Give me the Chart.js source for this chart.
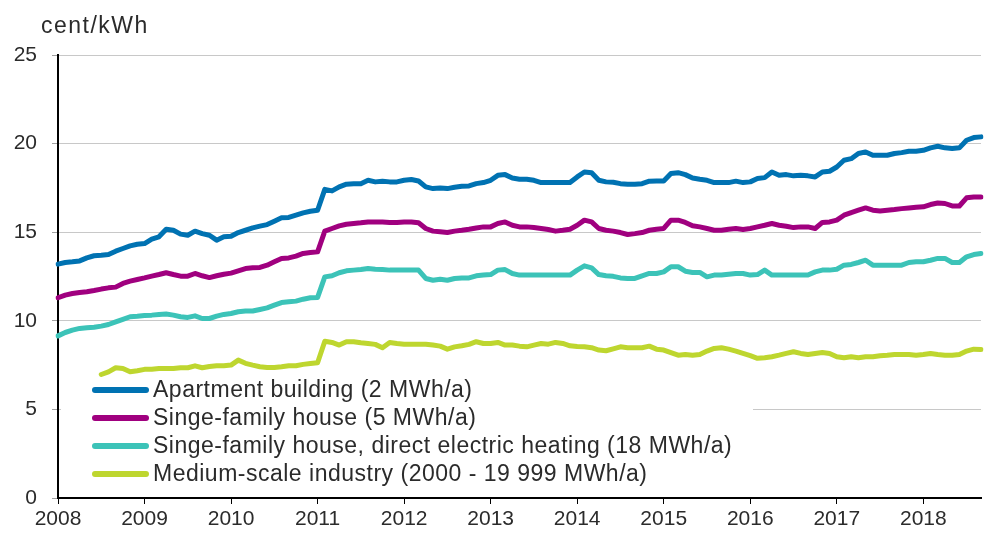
<!DOCTYPE html>
<html>
<head>
<meta charset="utf-8">
<script src="https://cdn.jsdelivr.net/npm/chart.js@4"></script>
<style>
  body { margin: 0; background: #fff; }
</style>
</head>
<body>
<canvas id="price-chart" width="984" height="534"></canvas>
<script>
        // Series names and values (cent/kWh), monthly from 2008-01 to 2018-09
        const seriesNames = [
            'Apartment building (2 MWh/a)',
            'Singe-family house (5 MWh/a)',
            'Singe-family house, direct electric heating (18 MWh/a)',
            'Medium-scale industry (2000 - 19 999 MWh/a)'
        ];
        const seriesColors = ['#0072b2', '#a0007f', '#3cc3b8', '#bed62f'];

        const apartment = [
            13.20, 13.29, 13.33, 13.38, 13.55, 13.67, 13.70, 13.74, 13.93, 14.08,
            14.23, 14.32, 14.36, 14.61, 14.74, 15.17, 15.11, 14.89, 14.83, 15.06,
            14.92, 14.83, 14.55, 14.74, 14.77, 14.98, 15.11, 15.24, 15.34, 15.43,
            15.62, 15.81, 15.83, 15.96, 16.09, 16.18, 16.24, 17.42, 17.33, 17.56,
            17.71, 17.74, 17.74, 17.93, 17.84, 17.88, 17.84, 17.84, 17.93, 17.97,
            17.89, 17.56, 17.46, 17.50, 17.46, 17.54, 17.59, 17.61, 17.74, 17.80,
            17.93, 18.21, 18.25, 18.06, 17.99, 17.99, 17.93, 17.80, 17.80, 17.80,
            17.80, 17.80, 18.12, 18.40, 18.36, 17.93, 17.84, 17.82, 17.74, 17.71,
            17.71, 17.74, 17.88, 17.89, 17.89, 18.31, 18.36, 18.25, 18.06, 17.99,
            17.93, 17.80, 17.80, 17.80, 17.88, 17.80, 17.84, 18.03, 18.08, 18.40,
            18.21, 18.25, 18.18, 18.21, 18.18, 18.12, 18.40, 18.44, 18.68, 19.06,
            19.15, 19.44, 19.53, 19.34, 19.34, 19.34, 19.44, 19.49, 19.57, 19.57,
            19.62, 19.76, 19.85, 19.76, 19.72, 19.76, 20.19, 20.34, 20.38
        ];
        const house = [
            11.30, 11.45, 11.54, 11.60, 11.64, 11.71, 11.79, 11.86, 11.90, 12.11,
            12.24, 12.33, 12.42, 12.52, 12.61, 12.71, 12.61, 12.52, 12.52, 12.67,
            12.54, 12.44, 12.54, 12.63, 12.69, 12.82, 12.95, 12.99, 13.01, 13.14,
            13.33, 13.52, 13.55, 13.65, 13.80, 13.85, 13.89, 15.06, 15.21, 15.36,
            15.45, 15.49, 15.53, 15.58, 15.58, 15.58, 15.55, 15.55, 15.58, 15.58,
            15.53, 15.21, 15.06, 15.02, 14.98, 15.06, 15.11, 15.17, 15.24, 15.30,
            15.30, 15.49, 15.58, 15.39, 15.30, 15.30, 15.26, 15.21, 15.15, 15.06,
            15.11, 15.17, 15.39, 15.68, 15.58, 15.21, 15.11, 15.06, 14.98, 14.87,
            14.92, 14.98, 15.11, 15.17, 15.21, 15.68, 15.68, 15.55, 15.36, 15.30,
            15.21, 15.11, 15.11, 15.17, 15.21, 15.15, 15.21, 15.30, 15.39, 15.49,
            15.39, 15.34, 15.26, 15.30, 15.30, 15.21, 15.55, 15.58, 15.68, 15.96,
            16.11, 16.24, 16.37, 16.24, 16.20, 16.24, 16.28, 16.33, 16.37, 16.41,
            16.43, 16.56, 16.65, 16.62, 16.48, 16.48, 16.94, 16.99, 16.99
        ];
        const houseElectric = [
            9.15, 9.34, 9.47, 9.57, 9.61, 9.64, 9.70, 9.79, 9.94, 10.08,
            10.23, 10.26, 10.30, 10.32, 10.36, 10.38, 10.32, 10.23, 10.19, 10.28,
            10.13, 10.13, 10.26, 10.36, 10.41, 10.51, 10.55, 10.55, 10.64, 10.73,
            10.88, 11.03, 11.07, 11.11, 11.22, 11.30, 11.32, 12.48, 12.54, 12.71,
            12.82, 12.86, 12.89, 12.95, 12.91, 12.89, 12.86, 12.86, 12.86, 12.86,
            12.86, 12.39, 12.29, 12.35, 12.29, 12.39, 12.42, 12.42, 12.54, 12.58,
            12.61, 12.86, 12.89, 12.67, 12.58, 12.58, 12.58, 12.58, 12.58, 12.58,
            12.58, 12.58, 12.86, 13.10, 12.99, 12.61, 12.54, 12.51, 12.42, 12.39,
            12.39, 12.54, 12.67, 12.67, 12.76, 13.05, 13.05, 12.80, 12.73, 12.73,
            12.48, 12.58, 12.58, 12.63, 12.67, 12.67, 12.58, 12.61, 12.86, 12.58,
            12.58, 12.58, 12.58, 12.58, 12.58, 12.76, 12.86, 12.86, 12.91, 13.14,
            13.18, 13.29, 13.42, 13.14, 13.14, 13.14, 13.14, 13.14, 13.29, 13.33,
            13.33, 13.42, 13.52, 13.52, 13.29, 13.29, 13.61, 13.74, 13.80
        ];
        const industry = [
            null, null, null, null, null, null, 6.97, 7.12, 7.35, 7.31,
            7.12, 7.18, 7.26, 7.27, 7.31, 7.31, 7.31, 7.35, 7.35, 7.46,
            7.35, 7.42, 7.46, 7.46, 7.50, 7.78, 7.60, 7.50, 7.41, 7.37,
            7.37, 7.41, 7.46, 7.46, 7.54, 7.59, 7.63, 8.85, 8.78, 8.63,
            8.82, 8.82, 8.76, 8.72, 8.67, 8.48, 8.78, 8.72, 8.68, 8.68,
            8.68, 8.68, 8.63, 8.57, 8.40, 8.53, 8.59, 8.67, 8.82, 8.72,
            8.72, 8.78, 8.63, 8.63, 8.57, 8.53, 8.63, 8.72, 8.68, 8.78,
            8.72, 8.59, 8.55, 8.53, 8.48, 8.35, 8.31, 8.42, 8.53, 8.48,
            8.48, 8.48, 8.57, 8.40, 8.35, 8.20, 8.06, 8.10, 8.06, 8.10,
            8.29, 8.44, 8.48, 8.40, 8.29, 8.16, 8.03, 7.88, 7.91, 7.97,
            8.06, 8.16, 8.25, 8.16, 8.10, 8.16, 8.21, 8.16, 7.97, 7.91,
            7.97, 7.91, 7.97, 7.97, 8.03, 8.06, 8.10, 8.10, 8.10, 8.06,
            8.10, 8.16, 8.10, 8.06, 8.06, 8.10, 8.29, 8.40, 8.38
        ];

        // Y axis ticks
        const yTicks = [0, 5, 10, 15, 20, 25];

        // Month categories 2008-01 ... 2018-09
        const months = [];
        for (let i = 0; i < apartment.length; i++) {
            const year = 2008 + Math.floor(i / 12);
            const month = (i % 12) + 1;
            months.push(year + '-' + String(month).padStart(2, '0'));
        }

        const fontFamily = "'Liberation Sans', Arial, sans-serif";
        const textColor = '#2b2b2b';

        // Unit label top left and legend inside the plot (white box)
        const overlayPlugin = {
            id: 'overlay',
            afterDatasetsDraw(chart) {
                const ctx = chart.ctx;
                ctx.save();
                ctx.fillStyle = textColor;
                ctx.textBaseline = 'middle';
                ctx.textAlign = 'left';
                ctx.font = '23px ' + fontFamily;
                ctx.letterSpacing = '1.5px';
                ctx.fillText('cent/kWh', 41, 27);

                // legend box
                ctx.fillStyle = '#ffffff';
                ctx.fillRect(61, 379, 692, 110);
                ctx.letterSpacing = '0.5px';
                chart.data.datasets.forEach((ds, i) => {
                    const y = 390 + i * 28;
                    ctx.strokeStyle = ds.borderColor;
                    ctx.lineWidth = 6;
                    ctx.lineCap = 'round';
                    ctx.beginPath();
                    ctx.moveTo(95, y);
                    ctx.lineTo(146, y);
                    ctx.stroke();
                    ctx.fillStyle = textColor;
                    ctx.fillText(ds.label, 153, y + 1);
                });
                ctx.restore();
            }
        };

        const datasets = [apartment, house, houseElectric, industry].map((values, i) => ({
            label: seriesNames[i],
            data: values,
            borderColor: seriesColors[i],
            backgroundColor: seriesColors[i],
            borderWidth: 5,
            pointRadius: 0,
            tension: 0,
            borderJoinStyle: 'round',
            borderCapStyle: 'round',
            spanGaps: false
        }));

        const progressChart = document.getElementById('price-chart');
        const myChart = new Chart(progressChart, {
            type: 'line',
            data: {
                labels: months,
                datasets: datasets
            },
            options: {
                responsive: false,
                animation: false,
                layout: {
                    padding: { top: 55, left: 0, right: 0, bottom: 0 }
                },
                plugins: {
                    legend: { display: false },
                    tooltip: { enabled: false }
                },
                scales: {
                    x: {
                        offset: false,
                        afterFit: (scale) => { scale.height = 36; },
                        border: { color: '#000', width: 2 },
                        grid: {
                            drawOnChartArea: false,
                            tickLength: 6,
                            tickColor: (c) => (c.index % 12 === 0 ? '#000' : 'rgba(0,0,0,0)')
                        },
                        ticks: {
                            autoSkip: false,
                            maxRotation: 0,
                            padding: 3,
                            color: textColor,
                            font: { family: fontFamily, size: 21 },
                            callback: (v, i) => (i % 12 === 0 ? months[i].slice(0, 4) : '')
                        }
                    },
                    y: {
                        min: yTicks[0],
                        max: yTicks[yTicks.length - 1],
                        afterFit: (scale) => { scale.width = 58; },
                        afterBuildTicks: (scale) => {
                            scale.ticks = yTicks.map(v => ({ value: v }));
                        },
                        border: { color: '#000', width: 2 },
                        grid: {
                            color: '#c8c8c8',
                            lineWidth: 1,
                            tickLength: 6,
                            tickColor: '#a0a0a0'
                        },
                        ticks: {
                            padding: 15,
                            color: textColor,
                            font: { family: fontFamily, size: 21 }
                        }
                    }
                }
            },
            plugins: [overlayPlugin]
        });
</script>
</body>
</html>
